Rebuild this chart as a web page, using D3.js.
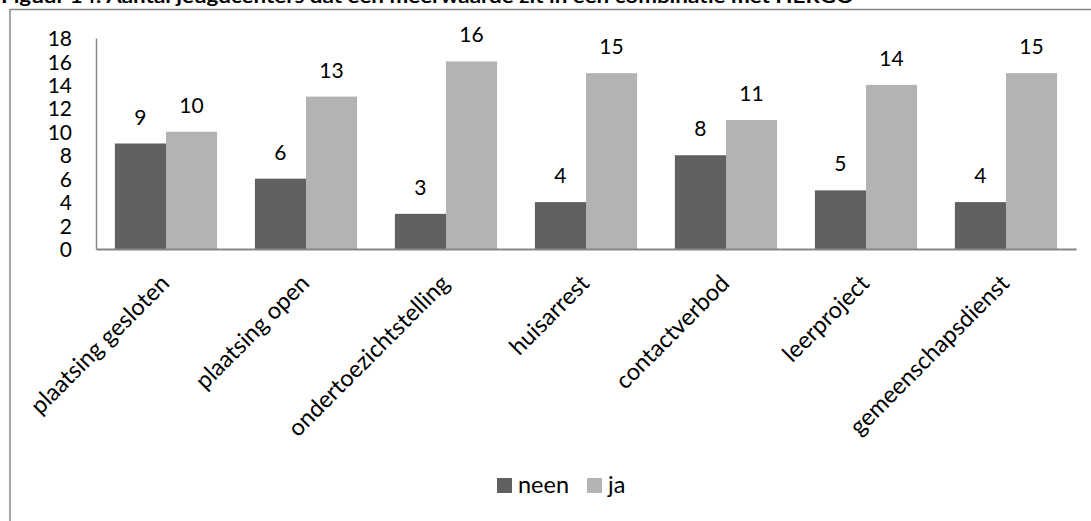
<!DOCTYPE html>
<html>
<head>
<meta charset="utf-8">
<script src="https://cdn.jsdelivr.net/npm/d3@7"></script>
<style>
html,body{margin:0;padding:0;background:#fff;}
svg{display:block;}
text{font-family:Lato,"Open Sans",sans-serif;fill:#000;}
</style>
</head>
<body>
<svg id="chart" width="1091" height="521"></svg>
<script>
const title = "Figuur 14: Aantal jeugdcenters dat een meerwaarde zit in een combinatie met HERGO";
const categories = ["plaatsing gesloten","plaatsing open","ondertoezichtstelling","huisarrest","contactverbod","leerproject","gemeenschapsdienst"];
const seriesNames = ["neen","ja"];
const neen = [9,6,3,4,8,5,4];
const ja = [10,13,16,15,11,14,15];
const yTicks = [0,2,4,6,8,10,12,14,16,18];
const colors = ["#606060","#b3b3b3"];

const svg = d3.select("#chart");
const fsNum = 21;
const fsTxt = 23.5;

// title (cut off at top)
svg.append("text").attr("x",1).attr("y",3)
  .attr("font-weight","bold").attr("font-size",19)
  .attr("textLength",853).attr("lengthAdjust","spacingAndGlyphs")
  .text(title);

// outer frame
svg.append("line").attr("x1",10).attr("x2",1091).attr("y1",9.5).attr("y2",9.5)
  .attr("stroke","#898989").attr("stroke-width",1.5);
svg.append("line").attr("x1",10).attr("x2",10).attr("y1",9).attr("y2",521)
  .attr("stroke","#898989").attr("stroke-width",1.5);

const x0 = d3.scaleBand().domain(categories).range([96,1076]).paddingInner(0.27).paddingOuter(0.135);
const x1 = d3.scaleBand().domain(seriesNames).range([0,x0.bandwidth()]);
const y = d3.scaleLinear().domain([0,18]).range([249,38]);

const data = categories.map((c,i)=>({cat:c, vals:[{s:"neen",v:neen[i]},{s:"ja",v:ja[i]}]}));

const g = svg.append("g").selectAll("g").data(data).join("g")
  .attr("transform",d=>`translate(${x0(d.cat)},0)`);
g.selectAll("rect").data(d=>d.vals).join("rect")
  .attr("x",d=>x1(d.s)).attr("width",x1.bandwidth())
  .attr("y",d=>y(d.v)).attr("height",d=>y(0)-y(d.v))
  .attr("fill",(d,i)=>colors[i]);
g.selectAll("text.lbl").data(d=>d.vals).join("text").attr("class","lbl")
  .attr("x",d=>x1(d.s)+x1.bandwidth()/2).attr("y",d=>y(d.v)-19)
  .attr("text-anchor","middle").attr("font-size",fsNum).text(d=>d.v);

// y axis
const yAxis = d3.axisLeft(y).tickValues(yTicks).tickSize(0).tickPadding(24);
const ya = svg.append("g").attr("transform","translate(96,0)").call(yAxis);
ya.select(".domain").attr("stroke","#868686").attr("stroke-width",1.5);
ya.selectAll("text").attr("font-size",fsNum).attr("font-family","Lato").attr("fill","#000").attr("dy","0.36em");

// x axis
const xAxis = d3.axisBottom(x0).tickSize(0).tickFormat(d=>d);
const xa = svg.append("g").attr("transform","translate(0,249)").call(xAxis);
xa.select(".domain").attr("stroke","#868686").attr("stroke-width",1.8);
xa.selectAll("text").attr("font-size",fsTxt).attr("font-family","Lato").attr("fill","#000")
  .attr("text-anchor","end").attr("dy","0.35em").attr("y",0)
  .attr("transform","translate(-1,30) rotate(-45)");

// legend
const leg = svg.append("g");
const legX = [497,587];
seriesNames.forEach((s,i)=>{
  leg.append("rect").attr("x",legX[i]).attr("y",478).attr("width",15).attr("height",15).attr("fill",colors[i]);
  leg.append("text").attr("x",legX[i]+21).attr("y",493).attr("font-size",fsTxt).text(s);
});
</script>
</body>
</html>
